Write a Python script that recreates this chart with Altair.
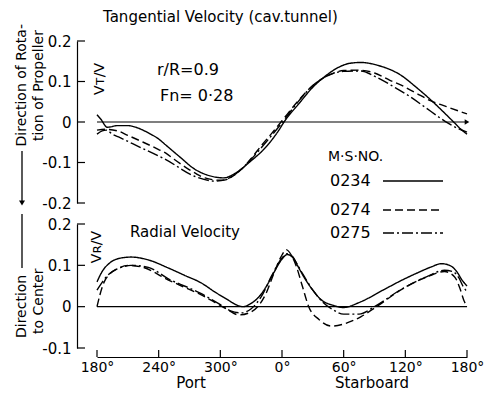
import altair as alt
import pandas as pd

# ---------------- data ----------------
SERIES = ["0234", "0274", "0275"]

# Tangential velocity Vt/V (top panel); angle in degrees, Port = negative
top_0234_theta = [-180, -176, -170, -160, -150, -140, -130, -120, -113, -100, -84, -70, -57, -45, -32, -15, -3, 2, 17, 30, 43, 55, 66, 77, 93, 116, 130, 145, 157, 167, 175, 180]
top_0234_value = [0.018, 0.006, -0.013, -0.009, -0.009, -0.015, -0.027, -0.042, -0.057, -0.085, -0.118, -0.133, -0.138, -0.126, -0.1, -0.06, -0.02, 0.0, 0.047, 0.086, 0.115, 0.135, 0.145, 0.147, 0.14, 0.115, 0.087, 0.054, 0.025, 0.0, -0.02, -0.03]

top_0274_theta = [-180, -172, -160, -150, -135, -120, -113, -105, -90, -84, -75, -60, -50, -40, -30, -20, -10, 0, 15, 30, 45, 60, 75, 90, 105, 116, 130, 145, 160, 180]
top_0274_value = [-0.02, -0.018, -0.022, -0.033, -0.05, -0.068, -0.077, -0.092, -0.118, -0.127, -0.138, -0.144, -0.137, -0.118, -0.09, -0.058, -0.028, 0.003, 0.05, 0.09, 0.115, 0.127, 0.128, 0.121, 0.103, 0.091, 0.072, 0.052, 0.038, 0.02]

top_0275_theta = [-180, -175, -171, -165, -159, -140, -113, -84, -65, -55, -45, -30, -15, 0, 15, 30, 45, 60, 77, 90, 110, 125, 140, 155, 165, 180]
top_0275_value = [-0.03, -0.022, -0.02, -0.03, -0.037, -0.06, -0.093, -0.135, -0.146, -0.143, -0.128, -0.092, -0.048, -0.002, 0.048, 0.09, 0.115, 0.125, 0.126, 0.113, 0.085, 0.062, 0.035, 0.008, -0.008, -0.025]

# Radial velocity Vr/V (bottom panel)
bot_0234_theta = [-180, -175, -168, -158, -147, -130, -111, -95, -79, -65, -53, -45, -38, -30, -22, -15, -8, 0, 5, 10, 15, 21, 30, 38, 50, 60, 75, 99, 115, 132, 145, 155, 163, 170, 175, 180]
bot_0234_value = [0.06, 0.085, 0.105, 0.117, 0.12, 0.113, 0.094, 0.076, 0.058, 0.035, 0.017, 0.005, 0.0, 0.008, 0.025, 0.05, 0.082, 0.115, 0.126, 0.122, 0.1, 0.073, 0.04, 0.017, 0.003, -0.002, 0.01, 0.041, 0.062, 0.082, 0.096, 0.104, 0.1, 0.085, 0.065, 0.05]

bot_0274_theta = [-180, -177, -173, -168, -160, -150, -135, -111, -95, -79, -65, -53, -42, -32, -22, -15, -8, 0, 4, 9, 14, 20, 26, 36, 48, 60, 77, 92, 116, 142, 158, 168, 173, 177, 180]
bot_0274_value = [0.0, 0.03, 0.06, 0.078, 0.092, 0.1, 0.095, 0.065, 0.047, 0.029, 0.01, -0.007, -0.02, -0.015, 0.005, 0.035, 0.08, 0.125, 0.138, 0.125, 0.097, 0.048, 0.0, -0.031, -0.047, -0.042, -0.024, 0.0, 0.041, 0.073, 0.085, 0.072, 0.045, 0.015, 0.0]

bot_0275_theta = [-180, -176, -170, -163, -155, -147, -130, -111, -79, -60, -50, -40, -30, -20, -10, 0, 5, 10, 20, 30, 40, 50, 60, 75, 90, 116, 142, 158, 166, 172, 176, 180]
bot_0275_value = [0.04, 0.055, 0.075, 0.088, 0.096, 0.1, 0.095, 0.068, 0.032, 0.005, -0.01, -0.015, -0.005, 0.025, 0.075, 0.118, 0.128, 0.12, 0.08, 0.04, 0.01, -0.008, -0.018, -0.018, 0.0, 0.042, 0.074, 0.088, 0.085, 0.07, 0.05, 0.036]

X_TICKS = [-180, -120, -60, 0, 60, 120, 180]
TOP_TICKS = [-0.2, -0.1, 0, 0.1, 0.2]
BOT_TICKS = [-0.1, 0, 0.1, 0.2]

# ---------------- tables ----------------
def series_df(thetas, values, name):
    return pd.DataFrame({"theta": thetas, "value": values, "series": name})

top_df = pd.concat([
    series_df(top_0234_theta, top_0234_value, "0234"),
    series_df(top_0274_theta, top_0274_value, "0274"),
    series_df(top_0275_theta, top_0275_value, "0275"),
])
bot_df = pd.concat([
    series_df(bot_0234_theta, bot_0234_value, "0234"),
    series_df(bot_0274_theta, bot_0274_value, "0274"),
    series_df(bot_0275_theta, bot_0275_value, "0275"),
])

FONT = "DejaVu Sans"
W, H = 370, 307
TOP_RANGE = [162, 0]
BOT_RANGE = [307, 183]
DASHES = [[1, 0], [8, 4], [11, 3, 2, 3]]
LW = 1.4

x_scale = alt.Scale(domain=[-180, 180], nice=False, zero=False)
x_axis = alt.Axis(
    values=X_TICKS, grid=False, title=None, tickSize=0, offset=9,
    domainColor="black", domainWidth=1.2, labelColor="black",
    labelFont=FONT, labelFontSize=14, labelPadding=3,
    labelFlush=False, labelOverlap=False,
    labelExpr="(datum.value < 0 ? datum.value + 360 : datum.value) + '°'",
)
X = alt.X("theta:Q", scale=x_scale, axis=x_axis)

top_scale = alt.Scale(domain=[-0.2, 0.2], range=TOP_RANGE, nice=False, zero=False)
bot_scale = alt.Scale(domain=[-0.1, 0.2], range=BOT_RANGE, nice=False, zero=False)

label_expr = "datum.value == 0 ? '0' : (datum.value < 0 ? '-' : '') + format(abs(datum.value), '.1f')"

def y_axis(values):
    return alt.Axis(
        values=values, orient="left", grid=False, title=None, tickSize=0, offset=20,
        domainColor="black", domainWidth=1.2, labelColor="black",
        labelFont=FONT, labelFontSize=15, labelPadding=6,
        labelExpr=label_expr, labelOverlap=False, labelFlush=False,
    )

dash_scale = alt.Scale(domain=SERIES, range=DASHES)

top_lines = alt.Chart(top_df).mark_line(color="black", strokeWidth=LW, interpolate="monotone").encode(
    x=X,
    y=alt.Y("value:Q", scale=top_scale, axis=y_axis(TOP_TICKS)),
    strokeDash=alt.StrokeDash("series:N", scale=dash_scale, legend=None),
    detail="series:N",
)
bot_lines = alt.Chart(bot_df).mark_line(color="black", strokeWidth=LW, interpolate="monotone").encode(
    x=X,
    y=alt.Y("value:Q", scale=bot_scale, axis=y_axis(BOT_TICKS)),
    strokeDash=alt.StrokeDash("series:N", scale=dash_scale, legend=None),
    detail="series:N",
)

zero_df = pd.DataFrame({"theta": [-180], "theta2": [180], "value": [0.0]})
top_zero = alt.Chart(zero_df).mark_rule(color="black", strokeWidth=1.1).encode(
    x=X, x2="theta2:Q", y=alt.Y("value:Q", scale=top_scale, axis=None))
bot_zero = alt.Chart(zero_df).mark_rule(color="black", strokeWidth=1.1).encode(
    x=X, x2="theta2:Q", y=alt.Y("value:Q", scale=bot_scale, axis=None))
arrow_df = pd.DataFrame({"theta": [180], "value": [0.0]})
top_arrow = alt.Chart(arrow_df).mark_point(shape="triangle-right", filled=True, color="black", size=28, opacity=1).encode(
    x=X, y=alt.Y("value:Q", scale=top_scale, axis=None))

top_ticks = alt.Chart(pd.DataFrame({"value": TOP_TICKS})).mark_rule(color="black", strokeWidth=1.2).encode(
    y=alt.Y("value:Q", scale=top_scale, axis=None), x=alt.value(-20), x2=alt.value(-12))
bot_ticks = alt.Chart(pd.DataFrame({"value": BOT_TICKS})).mark_rule(color="black", strokeWidth=1.2).encode(
    y=alt.Y("value:Q", scale=bot_scale, axis=None), x=alt.value(-20), x2=alt.value(-12))
x_ticks = alt.Chart(pd.DataFrame({"theta": X_TICKS})).mark_rule(color="black", strokeWidth=1.2).encode(
    x=X, y=alt.value(H + 2), y2=alt.value(H + 9))

one = pd.DataFrame({"a": [0]})

def txt(text, x, y, size=15, angle=0, align="left", baseline="middle"):
    return alt.Chart(one).mark_text(
        text=text, font=FONT, fontSize=size, angle=angle, align=align,
        baseline=baseline, color="black",
    ).encode(x=alt.value(x), y=alt.value(y))

def seg(x1, y1, x2, y2, dash=None, width=LW):
    kw = dict(color="black", strokeWidth=width)
    if dash is not None:
        kw["strokeDash"] = dash
    return alt.Chart(one).mark_rule(**kw).encode(
        x=alt.value(x1), y=alt.value(y1), x2=alt.value(x2), y2=alt.value(y2))

annotations = [
    txt("Tangential Velocity (cav.tunnel)", 6, -24, size=15),
    txt("r/R=0.9", 60, 29, size=16),
    txt("Fn= 0·28", 63, 55, size=16),
    txt("Vᴛ/V", 3, 38, size=14, angle=270, align="center"),
    txt("Radial Velocity", 33, 191, size=15),
    txt("Vʀ/V", 0, 206, size=14, angle=270, align="center"),
    # legend
    txt("M·S·NO.", 231, 116, size=14),
    txt("0234", 233, 140, size=16),
    txt("0274", 233, 169, size=16),
    txt("0275", 233, 192, size=16),
    seg(286, 140, 346, 140, DASHES[0]),
    seg(286, 169, 346, 169, DASHES[1]),
    seg(286, 192, 346, 192, DASHES[2]),
    # left side titles
    txt("Direction of Rota-", -75, -17, size=14, angle=270, align="right"),
    txt("tion of Propeller", -58, -11, size=14, angle=270, align="right"),
    seg(-75, 110, -75, 162, None, 1.3),
    alt.Chart(one).mark_point(shape="triangle-down", filled=True, color="black", size=36, opacity=1).encode(
        x=alt.value(-75), y=alt.value(162)),
    txt("Direction", -75, 297, size=14, angle=270, align="left"),
    txt("to Center", -58, 293, size=14, angle=270, align="left"),
    seg(-75, 173, -75, 227, None, 1.3),
    # x-axis side labels
    txt("Port", 94, 342, size=15, align="center"),
    txt("Starboard", 275, 342, size=15, align="center"),
]

chart = alt.layer(
    top_lines, bot_lines, top_zero, bot_zero, top_arrow,
    top_ticks, bot_ticks, x_ticks, *annotations,
).resolve_scale(y="independent").resolve_axis(y="independent").properties(
    width=W, height=H,
    autosize=alt.AutoSizeParams(type="none"),
    padding={"left": 97, "top": 41, "right": 32, "bottom": 46},
    background="white",
).configure_view(strokeWidth=0)

chart.save("out.html", embed_options={"renderer": "svg", "actions": False})
